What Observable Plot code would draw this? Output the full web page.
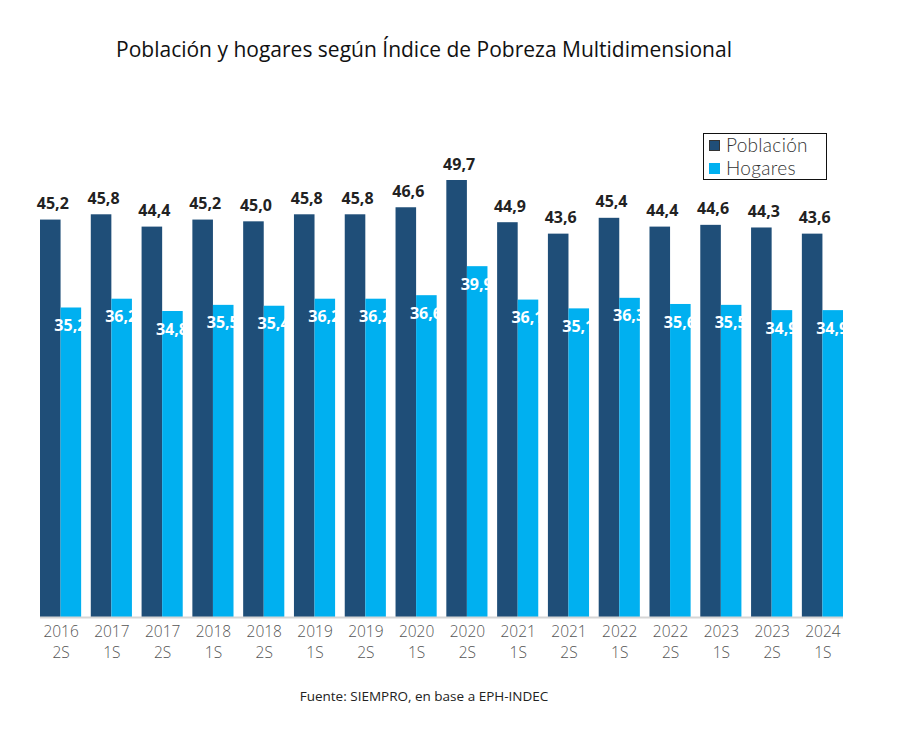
<!DOCTYPE html>
<html>
<head>
<meta charset="utf-8">
<script src="https://cdn.jsdelivr.net/npm/d3@7"></script>
<script src="https://cdn.jsdelivr.net/npm/@observablehq/plot@0.6"></script>
<style>
  body { margin: 0; background: #fff; font-family: "Open Sans", sans-serif; }
  #wrap { position: relative; width: 897px; height: 740px; }
  #title { position: absolute; left: 0; width: 848px; top: 35px; text-align: center; font-size: 21px; font-weight: 500; color: #111; }
  #chart { position: absolute; left: 0; top: 80px; }
  #legend { position: absolute; left: 703px; top: 133px; width: 122px; height: 45px; border: 1.5px solid #111; background: #fff; font-family: Lato, sans-serif; font-size: 19px; color: #333; font-weight: 300; letter-spacing: 0.3px; }
  #legend .item { position: absolute; left: 5px; display: flex; align-items: center; height: 22px; line-height: 22px; }
  #legend .sw { width: 11px; height: 11px; margin-right: 6px; border: 1px solid #333; box-sizing: border-box; flex: none; }
</style>
</head>
<body>
<div id="wrap">
  <div id="title">Población y hogares según Índice de Pobreza Multidimensional</div>
  <div id="chart"></div>
  <div id="legend">
    <div class="item" style="top:0px"><span class="sw" style="background:#1f4e78"></span><span>Población</span></div>
    <div class="item" style="top:23px"><span class="sw" style="background:#00b0f0;border-color:#00b0f0"></span><span>Hogares</span></div>
  </div>
  <div id="caption" style="position:absolute;left:0;width:848px;top:687px;text-align:center;font-size:13.5px;color:#222;">Fuente: SIEMPRO, en base a EPH-INDEC</div>
</div>
<script>
const years = ["2016","2017","2017","2018","2018","2019","2019","2020","2020","2021","2021","2022","2022","2023","2023","2024"];
const semesters = ["2S","1S","2S","1S","2S","1S","2S","1S","2S","1S","2S","1S","2S","1S","2S","1S"];
const poblacion = [45.2,45.8,44.4,45.2,45.0,45.8,45.8,46.6,49.7,44.9,43.6,45.4,44.4,44.6,44.3,43.6];
const hogares = [35.2,36.2,34.8,35.5,35.4,36.2,36.2,36.6,39.9,36.1,35.1,36.3,35.6,35.5,34.9,34.9];
const colorPob = "#1f4e78";
const colorHog = "#00b0f0";

const periods = years.map((y, i) => y + " " + semesters[i]);
const rows = periods.map((p, i) => ({period: p, year: years[i], sem: semesters[i], pob: poblacion[i], hog: hogares[i]}));

const W = 897, ML = 40, MR = 54, PAD = 0.19;
const bw = (W - ML - MR) / (periods.length - PAD) * (1 - PAD);
const half = bw / 2;
const fmt = v => v.toFixed(1).replace(".", ",");

const chart = Plot.plot({
  width: W,
  height: 600,
  marginLeft: ML,
  marginRight: MR,
  marginTop: 100,
  marginBottom: 63,
  x: {domain: periods, paddingInner: PAD, paddingOuter: 0, round: false, axis: null},
  y: {domain: [0, d3.max(poblacion)], axis: null},
  style: {fontFamily: "Open Sans, sans-serif", background: "transparent"},
  marks: [
    Plot.barY(rows, {x: "period", y: "pob", fill: colorPob, insetRight: half}),
    Plot.barY(rows, {x: "period", y: "hog", fill: colorHog, insetLeft: half}),
    Plot.ruleY([0], {stroke: "#d6d6d6", strokeWidth: 2}),
    Plot.text(rows, {x: "period", y: "pob", text: d => fmt(d.pob), dx: -half / 2 + 2, dy: -16, fontSize: 16, fontWeight: "bold", fill: "#222"}),
    Plot.text(rows, {x: "period", y: "hog", text: d => fmt(d.hog), dx: half / 2 - 1, dy: 18, fontSize: 16, fontWeight: "bold", fill: "#fff"}),
    Plot.text(rows, {x: "period", frameAnchor: "bottom", dy: 19, text: "year", fontSize: 15.5, fontWeight: 300, fill: "#555"}),
    Plot.text(rows, {x: "period", frameAnchor: "bottom", dy: 40, text: "sem", fontSize: 15.5, fontWeight: 300, fill: "#555"})
  ]
});
document.getElementById("chart").appendChild(chart);
</script>
</body>
</html>
